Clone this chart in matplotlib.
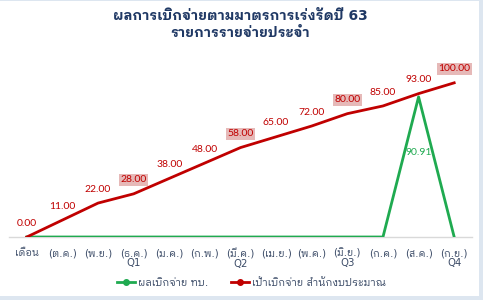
import matplotlib
matplotlib.use("Agg")
import matplotlib.pyplot as plt
from matplotlib.patches import Rectangle
from matplotlib.lines import Line2D

# data
months = ['เดือน', '(ต.ค.)', '(พ.ย.)', '(ธ.ค.)\nQ1', '(ม.ค.)', '(ก.พ.)', '(มี.ค.)\nQ2',
          '(เม.ย.)', '(พ.ค.)', '(มิ.ย.)\nQ3', '(ก.ค.)', '(ส.ค.)', '(ก.ย.)\nQ4']
target = [0, 11, 22, 28, 38, 48, 58, 65, 72, 80, 85, 93, 100]
actual = [0, 0, 0, 0, 0, 0, 0, 0, 0, 0, 0, 90.91, 0]
quarter_ends = [3, 6, 9, 12]

title = 'ผลการเบิกจ่ายตามมาตรการเร่งรัดปี 63\nรายการรายจ่ายประจำ'
name_actual = 'ผลเบิกจ่าย ทบ.'
name_target = 'เป้าเบิกจ่าย สำนักงบประมาณ'

thai = ['DejaVu Sans', 'IBM Plex Sans Thai Looped', 'Noto Sans Thai Looped']
plt.rcParams['font.family'] = thai

RED = '#C00000'
GREEN = '#1FAA50'
NAVY = '#1F3864'
TICK = '#3A4A66'

fig = plt.figure(figsize=(4.83, 3.0), dpi=100)
fig.patch.set_facecolor('#DDE6F0')
fig.patches.append(Rectangle((0, 4 / 300), 479 / 483, 295 / 300, transform=fig.transFigure,
                             facecolor='white', edgecolor='none', zorder=-10))

ax = fig.add_axes([9 / 483, 63 / 300, 463 / 483, 185 / 300])
ax.set_facecolor('none')
x = list(range(len(months)))

ax.plot(x, actual, color=GREEN, lw=2.0, zorder=3)
ax.plot(x, target, color=RED, lw=2.0, zorder=4)

for i, v in enumerate(target):
    box = None
    if i in quarter_ends:
        box = dict(boxstyle='square,pad=0.15', facecolor='#E6B9B8', edgecolor='none')
    ax.annotate(f'{v:.2f}', (i, v), xytext=(0, 10), textcoords='offset points',
                ha='center', va='center', fontsize=7.5, color=RED,
                family=['Lato', 'DejaVu Sans'], bbox=box, zorder=5)

peak = actual.index(max(actual))
ax.text(peak, max(actual) * 0.6, f'{actual[peak]:.2f}', ha='center', va='center',
        fontsize=7.5, color=GREEN, family=['Lato', 'DejaVu Sans'], zorder=5)

ax.set_xlim(-0.5, len(months) - 0.5)
ax.set_ylim(0, 120)
ax.set_yticks([])
ax.set_xticks(x)
ax.set_xticklabels(months, fontsize=7.3, color=TICK, linespacing=1.0)
ax.tick_params(axis='x', length=0, pad=8)
for s in ['top', 'right', 'left']:
    ax.spines[s].set_visible(False)
ax.spines['bottom'].set_color('#D9D9D9')
ax.spines['bottom'].set_linewidth(1.0)

fig.text(0.497, 0.918, title, ha='center', va='center', fontsize=10, fontweight='bold',
         color=NAVY, linespacing=1.2)

handles = [Line2D([], [], color=GREEN, lw=2, marker='o', markersize=4),
           Line2D([], [], color=RED, lw=2, marker='o', markersize=4)]
fig.legend(handles, [name_actual, name_target], loc='center', bbox_to_anchor=(0.52, 17 / 300),
           ncol=2, frameon=False, fontsize=7.5, handlelength=1.8, handletextpad=0.2,
           columnspacing=2.2, labelcolor=TICK)

fig.savefig('out.png', dpi=100, facecolor=fig.get_facecolor())
